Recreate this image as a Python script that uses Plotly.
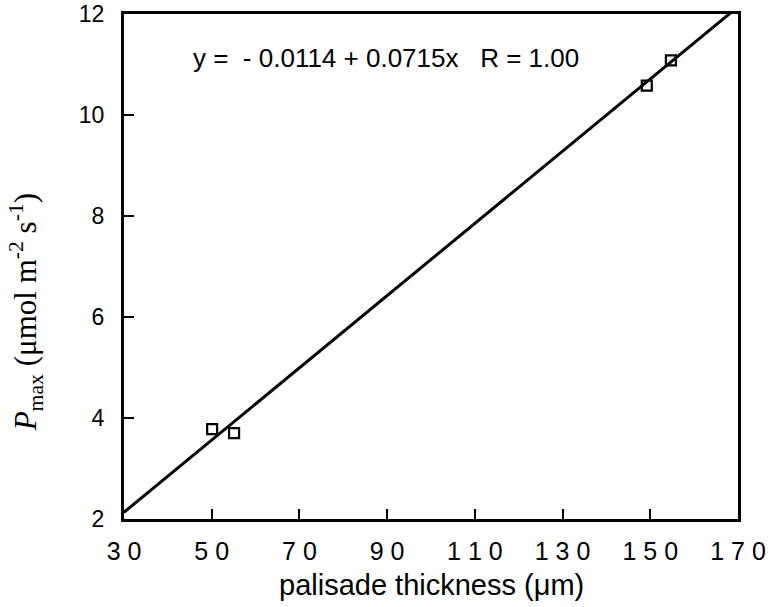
import plotly.graph_objects as go

# data
thickness = [50.1, 55.1, 149.2, 154.7]
pmax = [3.78, 3.70, 10.58, 11.08]
intercept = -0.0114
slope = 0.0715
fit_x = [30, 170]
fit_y = [intercept + slope * x for x in fit_x]
x_ticks = [30, 50, 70, 90, 110, 130, 150, 170]
y_ticks = [2, 4, 6, 8, 10, 12]

fig = go.Figure()
fig.add_trace(go.Scatter(x=fit_x, y=fit_y, mode="lines",
                         line=dict(color="black", width=3), showlegend=False))
fig.add_trace(go.Scatter(x=thickness, y=pmax, mode="markers",
                         marker=dict(symbol="square-open", size=10, color="black",
                                     line=dict(width=2.2, color="black")),
                         showlegend=False))

axis_common = dict(showgrid=False, zeroline=False, showline=True, linecolor="black",
                   ticks="inside", ticklen=10, tickwidth=2, tickcolor="black",
                   automargin=False, mirror=True, ticklabeloverflow="allow")

fig.update_xaxes(range=[30, 170], tickvals=x_ticks,
                 ticktext=[" ".join(str(v)) for v in x_ticks],
                 linewidth=3, ticklabelstandoff=8,
                 tickfont=dict(family="Liberation Sans, Arial", size=25, color="black"),
                 **axis_common)
fig.update_yaxes(range=[2, 12], tickvals=y_ticks, linewidth=3,
                 ticklabelstandoff=12,
                 tickfont=dict(family="Liberation Sans, Arial", size=23, color="black"),
                 **axis_common)

fig.add_annotation(xref="paper", yref="paper", x=0.5, y=-0.130,
                   text="palisade thickness (μm)", showarrow=False,
                   xanchor="center", yanchor="middle",
                   font=dict(family="Liberation Sans, Arial", size=29, color="black"))
fig.add_annotation(xref="paper", yref="paper", x=-0.159, y=0.41, textangle=-90,
                   text="<i>P</i><sub>max</sub> (μmol m<sup>-2</sup> s<sup>-1</sup>)",
                   showarrow=False, xanchor="center", yanchor="middle",
                   font=dict(family="Liberation Serif, Times New Roman", size=31, color="black"))
fig.add_annotation(xref="paper", yref="paper", x=0.109, y=0.913,
                   text="y =  - 0.0114 + 0.0715x   R = 1.00",
                   showarrow=False, xanchor="left", yanchor="middle",
                   font=dict(family="Liberation Sans, Arial", size=26, color="black"))

fig.update_layout(width=772, height=607, plot_bgcolor="white", paper_bgcolor="white",
                  margin=dict(l=124, r=34, t=14, b=88))
fig.write_html("out.html", config={"displayModeBar": False},
               post_script="document.body.style.margin='0';")
